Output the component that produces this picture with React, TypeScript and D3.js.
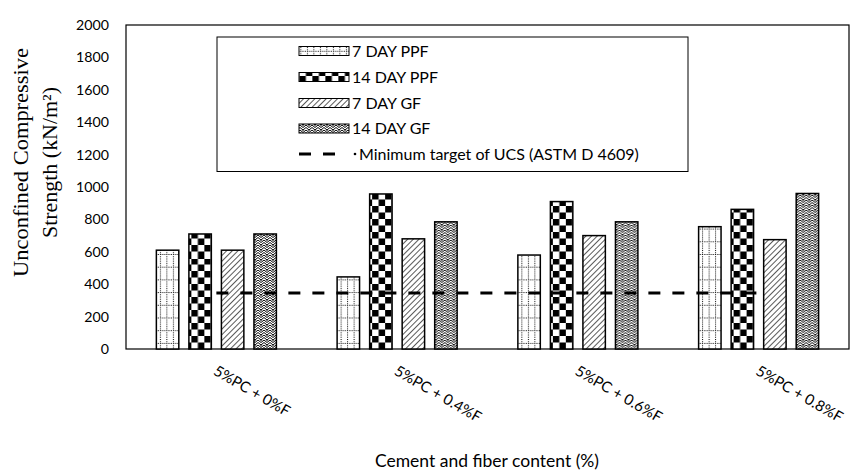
import React from "react";
import * as d3 from "d3";

const categories = ["5%PC + 0%F", "5%PC + 0.4%F", "5%PC + 0.6%F", "5%PC + 0.8%F"];
const seriesNames = ["7 DAY PPF", "14 DAY PPF", "7 DAY GF", "14 DAY GF"];
const day7PPF = [610, 445, 580, 755];
const day14PPF = [710, 957, 910, 862];
const day7GF = [610, 680, 700, 675];
const day14GF = [710, 785, 785, 960];
const minTarget = [345, 345, 345, 345];
const minTargetLabel = "Minimum target of UCS (ASTM D 4609)";
const yTicks = [0, 200, 400, 600, 800, 1000, 1200, 1400, 1600, 1800, 2000];

const seriesValues = [day7PPF, day14PPF, day7GF, day14GF];
const patternIds = ["pDotGrid", "pChecker", "pDiag", "pZig"];

const W = 851;
const H = 476;
const M = { left: 126, right: 849, top: 25, bottom: 349 };
const sans = "Lato, 'Open Sans', sans-serif";
const serif = "'Liberation Serif', 'DejaVu Serif', serif";

export default function App() {
  const x0 = d3.scaleBand<string>().domain(categories).range([M.left, M.right]).padding(0);
  const gw = x0.bandwidth();
  const x1 = d3
    .scaleBand<string>()
    .domain(seriesNames)
    .range([gw * 0.168, gw * 0.832])
    .paddingInner(0.31)
    .paddingOuter(0);
  const y = d3.scaleLinear().domain([0, 2000]).range([M.bottom, M.top]);

  const lineGen = d3
    .line<number>()
    .x((_, i) => (x0(categories[i]) as number) + gw / 2)
    .y((d) => y(d));

  const legendX = 217;
  const legendY = 37;
  const legendRows = [51, 77, 103, 128.5, 154];

  return (
    <svg width={W} height={H} style={{ position: "absolute", left: 0, top: 0, background: "#fff" }}>
      <defs>
        <pattern id="pDotGrid" width={6.5} height={12.7} patternUnits="userSpaceOnUse" x={M.left + gw * 0.168 + 1}>
          <rect width={6.5} height={12.7} fill="#fff" />
          <line x1={0.5} y1={0} x2={0.5} y2={12.7} stroke="#000" strokeWidth={1} strokeDasharray="1,1.2" />
          <line x1={0} y1={0.5} x2={6.5} y2={0.5} stroke="#000" strokeWidth={1} strokeDasharray="1,1.2" />
        </pattern>
        <pattern id="pChecker" width={13} height={13} patternUnits="userSpaceOnUse" x={M.left + gw * 0.168} y={M.bottom}>
          <rect width={13} height={13} fill="#fff" />
          <rect x={0} y={0} width={6.5} height={6.5} fill="#000" />
          <rect x={6.5} y={6.5} width={6.5} height={6.5} fill="#000" />
        </pattern>
        <pattern id="pDiag" width={4} height={4} patternUnits="userSpaceOnUse" patternTransform="rotate(45)">
          <rect width={4} height={4} fill="#fff" />
          <line x1={0} y1={0} x2={0} y2={4} stroke="#000" strokeWidth={1.3} />
        </pattern>
        <pattern id="pZig" width={6} height={5} patternUnits="userSpaceOnUse">
          <rect width={6} height={5} fill="#fff" />
          <path d="M0,0 L3,2.5 L6,0 M0,2.5 L3,5 L6,2.5" fill="none" stroke="#000" strokeWidth={1} />
          <rect x={2.5} y={0} width={1} height={1} fill="#000" />
        </pattern>
      </defs>

      {/* plot frame */}
      <rect x={M.left} y={M.top} width={M.right - M.left} height={M.bottom - M.top} fill="none" stroke="#000" strokeWidth={1.2} />

      {/* y ticks */}
      {yTicks.map((t) => (
        <text key={t} x={M.left - 17} y={y(t)} dy="0.35em" textAnchor="end" fontFamily={sans} fontSize={14.2} fill="#000">
          {t}
        </text>
      ))}

      {/* bars */}
      {categories.map((c, ci) => (
        <g key={c} transform={`translate(${x0(c)},0)`}>
          {seriesNames.map((s, si) => {
            const v = seriesValues[si][ci];
            return (
              <rect
                key={s}
                x={x1(s)}
                y={y(v)}
                width={x1.bandwidth()}
                height={y(0) - y(v)}
                fill={`url(#${patternIds[si]})`}
                stroke="#000"
                strokeWidth={1.5}
              />
            );
          })}
        </g>
      ))}

      {/* min target dashed line */}
      <path d={lineGen(minTarget) || ""} fill="none" stroke="#000" strokeWidth={3} strokeDasharray="12,12" />

      {/* x tick labels */}
      {categories.map((c) => {
        const cx = (x0(c) as number) + gw / 2 - 4;
        const cy = M.bottom + 25;
        return (
          <text key={c} transform={`translate(${cx},${cy}) rotate(30)`} fontFamily={sans} fontSize={15} fill="#000">
            {c}
          </text>
        );
      })}

      {/* x axis title */}
      <text x={487} y={467} textAnchor="middle" fontFamily={sans} fontSize={17.5} fill="#000">
        Cement and fiber content (%)
      </text>

      {/* y axis title */}
      <text
        transform="translate(28,162.5) rotate(-90)"
        textAnchor="middle"
        fontFamily={serif}
        fontSize={22}
        fill="#000"
        textLength={229}
        lengthAdjust="spacingAndGlyphs"
      >
        Unconfined Compressive
      </text>
      <text
        transform="translate(57,162.5) rotate(-90)"
        textAnchor="middle"
        fontFamily={serif}
        fontSize={22}
        fill="#000"
        textLength={151}
        lengthAdjust="spacingAndGlyphs"
      >
        Strength  (kN/m²)
      </text>

      {/* legend */}
      <rect x={legendX} y={legendY} width={471} height={134.5} fill="#fff" stroke="#000" strokeWidth={1} />
      {seriesNames.map((s, i) => (
        <g key={s}>
          <rect x={299} y={legendRows[i] - 4.5} width={50} height={9} fill={`url(#${patternIds[i]})`} stroke="#000" strokeWidth={1} />
          <text x={352} y={legendRows[i]} dy="0.35em" fontFamily={sans} fontSize={16} fill="#000">
            {s}
          </text>
        </g>
      ))}
      <line x1={299} y1={legendRows[4]} x2={340} y2={legendRows[4]} stroke="#000" strokeWidth={3} strokeDasharray="12,12" />
      <circle cx={355} cy={legendRows[4]} r={1.3} fill="#000" />
      <text x={359} y={legendRows[4]} dy="0.35em" fontFamily={sans} fontSize={16} fill="#000">
        {minTargetLabel}
      </text>
    </svg>
  );
}
